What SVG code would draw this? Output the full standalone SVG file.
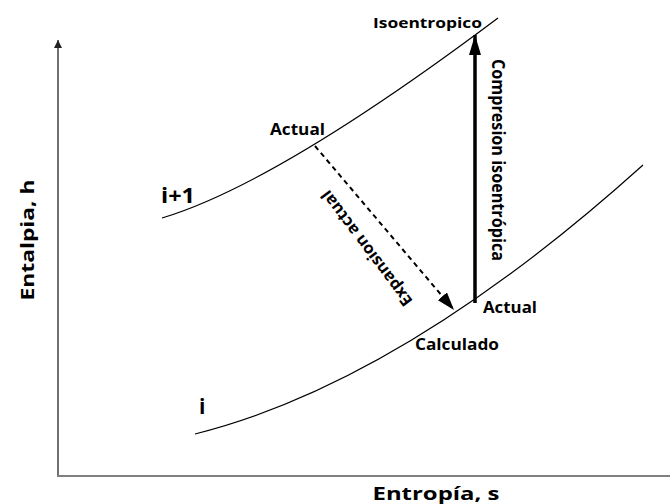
<svg xmlns="http://www.w3.org/2000/svg" width="670" height="504" viewBox="0 0 670 504">
<style>
  .lbl { font-family: "Open Sans", "Liberation Sans", sans-serif; font-weight: 700; fill: #000; }
  .curve { fill: none; stroke: #000; stroke-width: 1.2; }
</style>
<defs>
  <marker id="axisHead" markerUnits="userSpaceOnUse" markerWidth="8" markerHeight="10" refX="8" refY="4" orient="auto">
    <path d="M0,0 L8,4 L0,8 Z" fill="#222"/>
  </marker>
  <marker id="bigHead" markerUnits="userSpaceOnUse" markerWidth="20" markerHeight="12" refX="20" refY="6" orient="auto">
    <path d="M0,0 L20,6 L0,12 Z" fill="#000"/>
  </marker>
  <marker id="dashHead" markerUnits="userSpaceOnUse" markerWidth="18" markerHeight="12" refX="18" refY="6" orient="auto">
    <path d="M0,0 L18,6 L0,12 Z" fill="#000"/>
  </marker>
</defs>
<rect width="670" height="504" fill="#fff"/>
<g id="axes">
  <line x1="58" y1="477" x2="58" y2="40" stroke="#222" stroke-width="1.3" marker-end="url(#axisHead)"/>
  <line x1="57" y1="476" x2="670" y2="476" stroke="#808080" stroke-width="2"/>
</g>
<g id="curve-i1">
  <path class="curve" d="M162,218 Q277.6,183.3 498,18"/>
</g>
<g id="curve-i">
  <path class="curve" d="M195,434 Q401.5,382.4 643,165"/>
</g>
<g id="connectors">
  <line x1="475" y1="303" x2="475" y2="35" stroke="#000" stroke-width="3.5" marker-end="url(#bigHead)"/>
  <line x1="315" y1="146" x2="454" y2="310" stroke="#000" stroke-width="2" stroke-dasharray="5,4" marker-end="url(#dashHead)"/>
</g>
<g id="labels">
  <text class="lbl" x="373" y="28" font-size="14.5" textLength="109" lengthAdjust="spacingAndGlyphs">Isoentropico</text>
  <text class="lbl" x="270" y="135" font-size="16" textLength="55" lengthAdjust="spacingAndGlyphs">Actual</text>
  <text class="lbl" x="483" y="313" font-size="16" textLength="54" lengthAdjust="spacingAndGlyphs">Actual</text>
  <text class="lbl" x="415" y="350" font-size="16" textLength="84" lengthAdjust="spacingAndGlyphs">Calculado</text>
  <text class="lbl" x="161" y="203" font-size="21" textLength="34" lengthAdjust="spacingAndGlyphs">i+1</text>
  <text class="lbl" x="199" y="414" font-size="21">i</text>
  <text class="lbl" font-size="17" text-anchor="middle" textLength="202" lengthAdjust="spacingAndGlyphs" transform="translate(492,160) rotate(90)">Compresion isoentrópica</text>
  <text class="lbl" font-size="16" text-anchor="middle" textLength="140" lengthAdjust="spacingAndGlyphs" transform="translate(371,245) rotate(-127)">Expansion actual</text>
  <text class="lbl" font-size="18.5" text-anchor="middle" textLength="121" lengthAdjust="spacingAndGlyphs" transform="translate(34,240) rotate(-90)">Entalpia, h</text>
  <text class="lbl" x="436" y="500" font-size="18.5" text-anchor="middle" textLength="127" lengthAdjust="spacingAndGlyphs">Entropía, s</text>
</g>
</svg>
